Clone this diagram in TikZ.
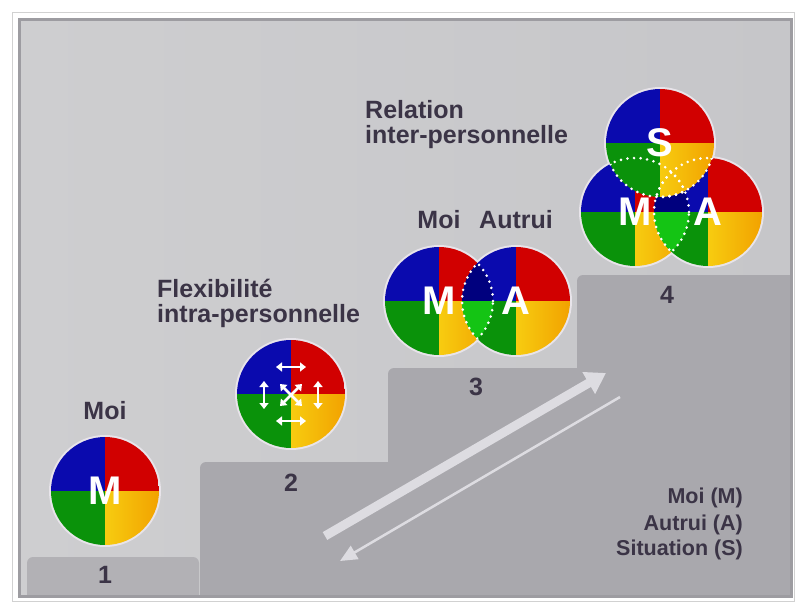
\documentclass[tikz,border=0pt]{standalone}
\usepackage{fontspec}
\setmainfont{Liberation Sans}
\usetikzlibrary{arrows.meta,calc,positioning}
\definecolor{panelgray}{HTML}{CECED0}
\definecolor{panelgrayB}{HTML}{C6C6C9}
\definecolor{panelline}{HTML}{9D9CA1}
\definecolor{stepgray}{HTML}{A9A8AD}
\definecolor{steplight}{HTML}{B2B1B5}
\definecolor{inkgray}{HTML}{3B3446}
\definecolor{qblue}{HTML}{0A0AAE}
\definecolor{qred}{HTML}{D10000}
\definecolor{qgreen}{HTML}{0A920A}
\definecolor{qyellowA}{HTML}{F7CC10}
\definecolor{qyellowB}{HTML}{F2A200}
\definecolor{lensblue}{HTML}{00007E}
\definecolor{lensgreen}{HTML}{14C414}
\definecolor{halo}{HTML}{E8E4EA}
\definecolor{arrowwhite}{HTML}{DDDCE1}

\begin{document}
\begin{tikzpicture}[x=1pt,y=-1pt,
  disc/.style={circle,minimum size=108pt,inner sep=0pt,text=white,font=\fontsize{40}{40}\selectfont\bfseries,
    path picture={
      \fill[qblue] (path picture bounding box.center) rectangle (path picture bounding box.north west);
      \fill[qred] (path picture bounding box.center) rectangle (path picture bounding box.north east);
      \fill[qgreen] (path picture bounding box.center) rectangle (path picture bounding box.south west);
      \shade[left color=qyellowA,right color=qyellowB] (path picture bounding box.center) rectangle (path picture bounding box.south east);}},
  heading/.style={inner sep=0pt,text=inkgray,font=\fontsize{25}{25}\selectfont\bfseries},
  legendtext/.style={inner sep=0pt,text=inkgray,font=\fontsize{21.5}{21.5}\selectfont\bfseries,anchor=base east},
  dots/.style={white,line width=2.9pt,dash pattern=on 0pt off 6.6pt,line cap=round},
  flexarrow/.style={white,line width=2.6pt,{Triangle[length=6pt,width=9pt]}-{Triangle[length=6pt,width=9pt]}},
  steparrow/.style={arrowwhite,line width=9pt,-{Triangle[length=20pt,width=24pt]}},
  backarrow/.style={arrowwhite,line width=2.5pt,-{Triangle[length=17pt,width=15pt]}}]
\useasboundingbox (0,0) rectangle (795,602);
\fill[white] (0,0) rectangle (795,602);
\draw[black!18] (12,12) rectangle (794,601);

% panel and stairs
\shade[left color=panelgray,right color=panelgrayB] (19,20) rectangle (791,596);
\begin{scope}
  \clip (19,20) rectangle (791,596);
  \fill[steplight,rounded corners=6pt] (27,557) rectangle (199,610);
  \fill[stepgray,rounded corners=6pt] (200,462) rectangle (810,610);
  \fill[stepgray,rounded corners=6pt] (388,368) rectangle (810,610);
  \fill[stepgray,rounded corners=6pt] (577,275) rectangle (810,610);
\end{scope}
\draw[panelline,line width=3pt] (19,20) rectangle (791,596);

% step 1
\coordinate (c1) at (105,491);
\fill[halo] (c1) circle (56pt);
\node[disc] (d1) at (c1) {M};
\node[heading,anchor=south,above=17pt of d1] (moi1) {Moi};
\node[heading,anchor=base] (n1) at (105,583) {1};

% step 2
\coordinate (c2) at (291,394);
\fill[halo] (c2) circle (56pt);
\node[disc] (d2) at (c2) {};
\draw[flexarrow] ([shift={(-15,-27)}]d2.center) -- ++(30,0);
\draw[flexarrow] ([shift={(-15,27)}]d2.center) -- ++(30,0);
\draw[flexarrow] ([shift={(-27,-13)}]d2.center) -- ++(0,28);
\draw[flexarrow] ([shift={(27,-13)}]d2.center) -- ++(0,28);
\draw[flexarrow] ([shift={(-11,-10)}]d2.center) -- ++(22,22);
\draw[flexarrow] ([shift={(11,-10)}]d2.center) -- ++(-22,22);
\node[heading,anchor=base west] (flex1) at (157,297) {Flexibilité};
\node[heading,anchor=base west] (flex2) at (157,322) {intra-personnelle};
\node[heading,anchor=north,below=26pt of d2] (n2) {2};

% step 3
\coordinate (c3m) at (439,301);
\coordinate (c3a) at (516,301);
\fill[halo] (c3m) circle (56pt) (c3a) circle (56pt);
\node[disc] (m3) at (c3m) {M};
\node[disc] (a3) at (c3a) {A};
\begin{scope}
  \clip (m3.center) circle (54pt);
  \clip (a3.center) circle (54pt);
  \fill[lensblue] (m3.north) rectangle (a3.east);
  \fill[lensgreen] (m3.south) rectangle (a3.east);
\end{scope}
\foreach \p/\q in {m3/a3,a3/m3} {
  \begin{scope}
    \clip (\q.center) circle (54pt);
    \draw[dots] (\p.center) circle (54pt);
  \end{scope}
}
\node[heading,anchor=south,above=18pt of m3] (moi3) {Moi};
\node[heading,anchor=south,above=18pt of a3] (autrui3) {Autrui};
\node[heading,anchor=base] (n3) at (476,395) {3};

% step 4
\coordinate (c4m) at (635,212);
\coordinate (c4a) at (708,212);
\coordinate (c4s) at (660,143);
\fill[halo] (c4m) circle (56pt) (c4a) circle (56pt) (c4s) circle (56pt);
\node[disc] (m4) at (c4m) {M};
\node[disc] (a4) at (c4a) {A};
\begin{scope}
  \clip (m4.center) circle (54pt);
  \clip (a4.center) circle (54pt);
  \fill[lensblue] (m4.north) rectangle (a4.east);
  \fill[lensgreen] (m4.south) rectangle (a4.east);
\end{scope}
\node[disc] (s4) at (c4s) {S};
\foreach \p/\q in {m4/a4,a4/m4,s4/m4,m4/s4,s4/a4,a4/s4} {
  \begin{scope}
    \clip (\q.center) circle (54pt);
    \draw[dots] (\p.center) circle (54pt);
  \end{scope}
}
\node[heading,anchor=base west] (rel1) at (365,118) {Relation};
\node[heading,anchor=base west] (rel2) at (365,143) {inter-personnelle};
\node[heading,anchor=base] (n4) at (667,303) {4};

% arrows
\coordinate (up0) at (325,536);
\coordinate (up1) at (606,373);
\coordinate (dn0) at (620,397);
\coordinate (dn1) at (340,561);
\draw[steparrow] (up0) -- (up1);
\draw[backarrow] (dn0) -- (dn1);

% legend
\node[legendtext] (leg1) at (743,503) {Moi (M)};
\node[legendtext] (leg2) at (743,530) {Autrui (A)};
\node[legendtext] (leg3) at (743,555) {Situation (S)};
\end{tikzpicture}
\end{document}
